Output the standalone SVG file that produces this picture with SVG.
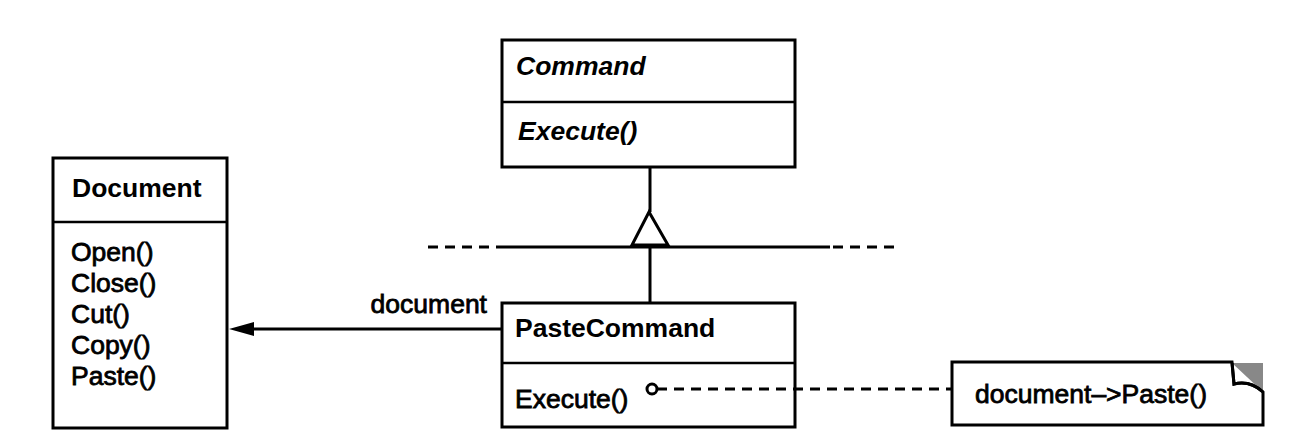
<svg xmlns="http://www.w3.org/2000/svg" width="1304" height="446" viewBox="0 0 1304 446">
<style>
.box{fill:#fff;stroke:#000;stroke-width:3}
.div{stroke:#000;stroke-width:2.5}
.t{font-family:"Liberation Sans",Arial,sans-serif;font-size:26.5px;fill:#000}
.b{font-weight:bold}
.i{font-style:italic}
.m{stroke:#000;stroke-width:0.8}
.ln{stroke:#000;stroke-width:3;fill:none}
.dash{stroke:#000;stroke-width:3;fill:none;stroke-dasharray:10 7}
</style>
<rect width="1304" height="446" fill="#fff"/>
<g id="command">
<rect class="box" x="502" y="40" width="293" height="127"/>
<line class="div" x1="502" y1="102" x2="795" y2="102"/>
<text class="t b i" x="516" y="75">Command</text>
<text class="t b i" x="518" y="140">Execute()</text>
</g>
<g id="document">
<rect class="box" x="53" y="158" width="174" height="270"/>
<line class="div" x1="53" y1="222" x2="227" y2="222"/>
<text class="t b" x="72" y="197">Document</text>
<text class="t m" x="71" y="261">Open()</text>
<text class="t m" x="71" y="292">Close()</text>
<text class="t m" x="71" y="323">Cut()</text>
<text class="t m" x="71" y="354">Copy()</text>
<text class="t m" x="71" y="385">Paste()</text>
</g>
<g id="pastecommand">
<rect class="box" x="502" y="303" width="293" height="124"/>
<line class="div" x1="502" y1="363" x2="795" y2="363"/>
<text class="t b" x="515" y="337">PasteCommand</text>
<text class="t m" x="515" y="408">Execute()</text>
</g>
<g id="note">
<polygon points="1232,363 1263,363 1263,392" fill="#888"/>
<path d="M952,362 H1232 L1234,384 Q1250,380 1263,392 V425 H952 Z" fill="#fff" stroke="#000" stroke-width="3"/>
<path d="M1232,363 L1234,384 Q1250,380 1263,392" fill="none" stroke="#000" stroke-width="3"/>
<text class="t m" x="975" y="403">document–&gt;Paste()</text>
</g>
<g id="connectors">
<line class="ln" x1="650" y1="167" x2="650" y2="212"/>
<line class="ln" x1="650" y1="247" x2="650" y2="303"/>
<line class="dash" x1="428" y1="247" x2="505" y2="247"/>
<line class="ln" x1="505" y1="247" x2="830" y2="247"/>
<line class="dash" x1="833" y1="247" x2="897" y2="247"/>
<polygon points="649,212 632,245 668,245" fill="#fff" stroke="#000" stroke-width="3" stroke-linejoin="miter"/>
<line class="ln" x1="502" y1="329" x2="253" y2="329"/>
<path d="M229,329 L254,322 L254,336 Z" fill="#000"/>
<text class="t m" x="487" y="313" text-anchor="end">document</text>
<circle cx="652" cy="389" r="5" fill="#fff" stroke="#000" stroke-width="3"/>
<line class="dash" x1="657" y1="389" x2="952" y2="389"/>
</g>
</svg>
